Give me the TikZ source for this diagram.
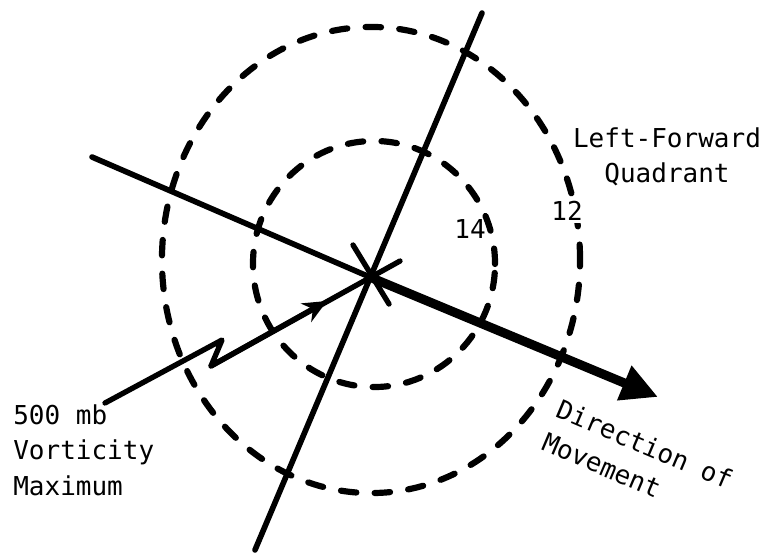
\documentclass[tikz,border=0pt]{standalone}
\usepackage{fontspec}
\setmonofont{DejaVu Sans Mono}
\usetikzlibrary{arrows.meta}
\tikzset{
  vxaxis/.style={line width=4pt, draw=black, line cap=round},
  vxmove/.style={line width=6.5pt, draw=black, -{Triangle[length=26pt,width=25pt]}},
  vxring/.style={line width=4.4pt, draw=black, line cap=round, dash pattern=on 11pt off 13pt},
  vxtrack/.style={line width=3.8pt, draw=black, line cap=round, line join=round},
  vxlabel/.style={font=\ttfamily\fontsize{18.5}{25.5}\selectfont, inner sep=0pt},
}
\begin{document}
\begin{tikzpicture}[x=0.025cm, y=-0.025cm]
\useasboundingbox (0,0) rectangle (770,558);
% dashed rings
\draw[vxring] (371,260) ellipse [x radius=5.225cm, y radius=5.825cm];
\draw[vxring] (374,264) ellipse [x radius=3.025cm, y radius=3.075cm];
% axes through the centre
\coordinate (ctr) at (372,278);
\coordinate (axtop) at (482,13);
\coordinate (axbot) at (255,550);
\coordinate (mvtail) at (92,157);
\coordinate (mvhead) at (658,397);
\draw[vxaxis] (axtop) -- (axbot);
\draw[vxaxis] (mvtail) -- (ctr);
\draw[vxmove] (ctr) -- (mvhead);
% vorticity track
\coordinate (vstart) at (105,403);
\coordinate (vk1) at (222,340);
\coordinate (vk2) at (211,366);
\coordinate (vmid) at (327,301);
\coordinate (vend) at (400,261);
\draw[vxtrack] (vstart) -- (vk1) -- (vk2) -- (vend);
\draw[vxtrack, -{Stealth[length=17pt,width=15pt]}] (vk2) -- (vmid);
\coordinate (st1) at (353,245);
\coordinate (st2) at (389,304);
\draw[vxtrack] (st1) -- (st2);
% labels
\node[vxlabel, align=center, anchor=north] (quad) at (667,127) {Left-Forward\\Quadrant};
\node[vxlabel, fill=white, inner sep=2pt] (r12) at (567,211) {12};
\node[vxlabel] (r14) at (470,229) {14};
\node[vxlabel, align=left, anchor=north west] (vort) at (13,404) {500 mb\\Vorticity\\Maximum};
\node[vxlabel, align=left, anchor=north west, rotate=-23] (dir) at (562,398) {Direction of\\Movement};
\end{tikzpicture}
\end{document}
